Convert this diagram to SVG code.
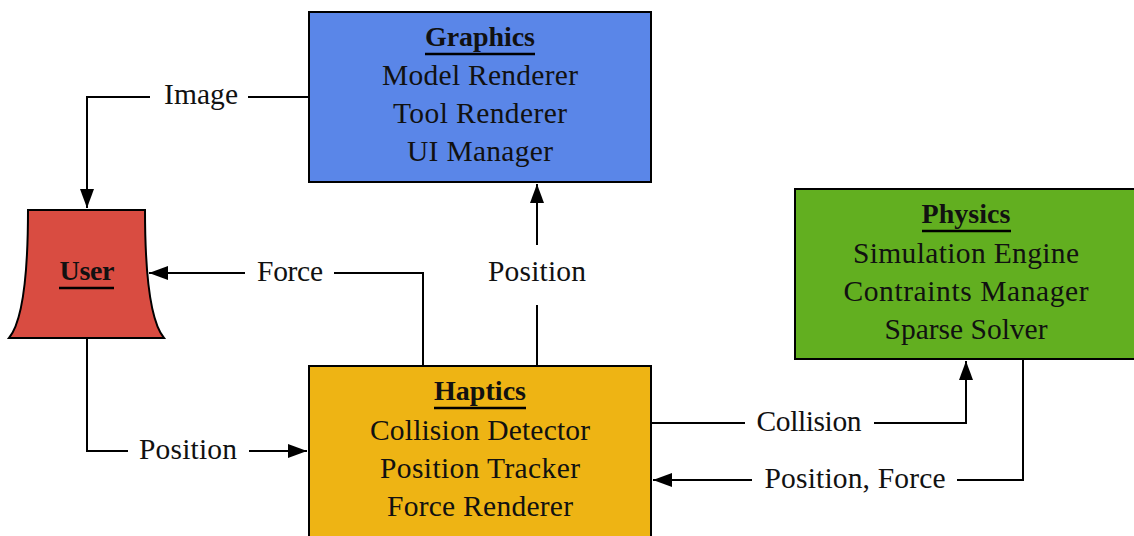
<svg xmlns="http://www.w3.org/2000/svg" width="1134" height="536" viewBox="0 0 1134 536">
<defs>
<style>
.box{stroke:#000;stroke-width:2}
.t{font-family:'Liberation Serif','Times New Roman',serif;font-size:29.5px;fill:#111;text-anchor:middle}
.h{font-weight:bold;font-size:28px}
.ul{stroke:#000;stroke-width:2.5}
.c{fill:none;stroke:#000;stroke-width:2}
.bg{fill:#fff}
</style>
<marker id="arr" markerUnits="userSpaceOnUse" markerWidth="20" markerHeight="16" refX="19" refY="7" orient="auto">
<path d="M0,0 L19,7 L0,14 Z" fill="#000"/>
</marker>
</defs>
<rect width="1134" height="536" fill="#fff"/>

<g id="connectors">
<path class="c" d="M309,97 H87 V208" marker-end="url(#arr)"/>
<rect class="bg" x="150" y="80" width="98" height="34"/>
<text class="t" x="201" y="104" textLength="74">Image</text>

<path class="c" d="M423,366 V273 H149" marker-end="url(#arr)"/>
<rect class="bg" x="245" y="256" width="89" height="34"/>
<text class="t" x="290" y="281" textLength="66">Force</text>

<path class="c" d="M537,366 V184" marker-end="url(#arr)"/>
<rect class="bg" x="480" y="245" width="114" height="60"/>
<text class="t" x="537" y="281" textLength="98">Position</text>

<path class="c" d="M87,338 V451 H307" marker-end="url(#arr)"/>
<rect class="bg" x="128" y="434" width="121" height="34"/>
<text class="t" x="188" y="459" textLength="98">Position</text>

<path class="c" d="M651,423 H966 V361" marker-end="url(#arr)"/>
<rect class="bg" x="745" y="406" width="129" height="34"/>
<text class="t" x="809" y="431" textLength="105">Collision</text>

<path class="c" d="M1023,359 V480 H653" marker-end="url(#arr)"/>
<rect class="bg" x="752" y="463" width="205" height="34"/>
<text class="t" x="855" y="488" textLength="181">Position, Force</text>
</g>

<g id="user">
<path class="box" fill="#D94C41" d="M28,210 L145,210 Q145,315 164,338 L9,338 Q28,315 28,210 Z"/>
<text class="t h" x="87" y="280" textLength="55">User</text>
<line class="ul" x1="59" y1="288" x2="114" y2="288"/>
</g>

<g id="graphics">
<rect class="box" fill="#5A86E8" x="309" y="12" width="342" height="170"/>
<text class="t h" x="480" y="46" textLength="110">Graphics</text>
<line class="ul" x1="425" y1="54" x2="535" y2="54"/>
<text class="t" x="480" y="85" textLength="196">Model Renderer</text>
<text class="t" x="480" y="123" textLength="174">Tool Renderer</text>
<text class="t" x="480" y="161" textLength="146">UI Manager</text>
</g>

<g id="physics">
<rect class="box" fill="#62AF20" x="795" y="189" width="340" height="170"/>
<text class="t h" x="966" y="223" textLength="89">Physics</text>
<line class="ul" x1="922" y1="231" x2="1011" y2="231"/>
<text class="t" x="966" y="263" textLength="226">Simulation Engine</text>
<text class="t" x="966" y="301" textLength="245">Contraints Manager</text>
<text class="t" x="966" y="339" textLength="163">Sparse Solver</text>
</g>

<g id="haptics">
<rect class="box" fill="#EEB414" x="309" y="366" width="342" height="180"/>
<text class="t h" x="480" y="400" textLength="92">Haptics</text>
<line class="ul" x1="434" y1="408" x2="526" y2="408"/>
<text class="t" x="480" y="440" textLength="220">Collision Detector</text>
<text class="t" x="480" y="478" textLength="200">Position Tracker</text>
<text class="t" x="480" y="516" textLength="186">Force Renderer</text>
</g>
</svg>
